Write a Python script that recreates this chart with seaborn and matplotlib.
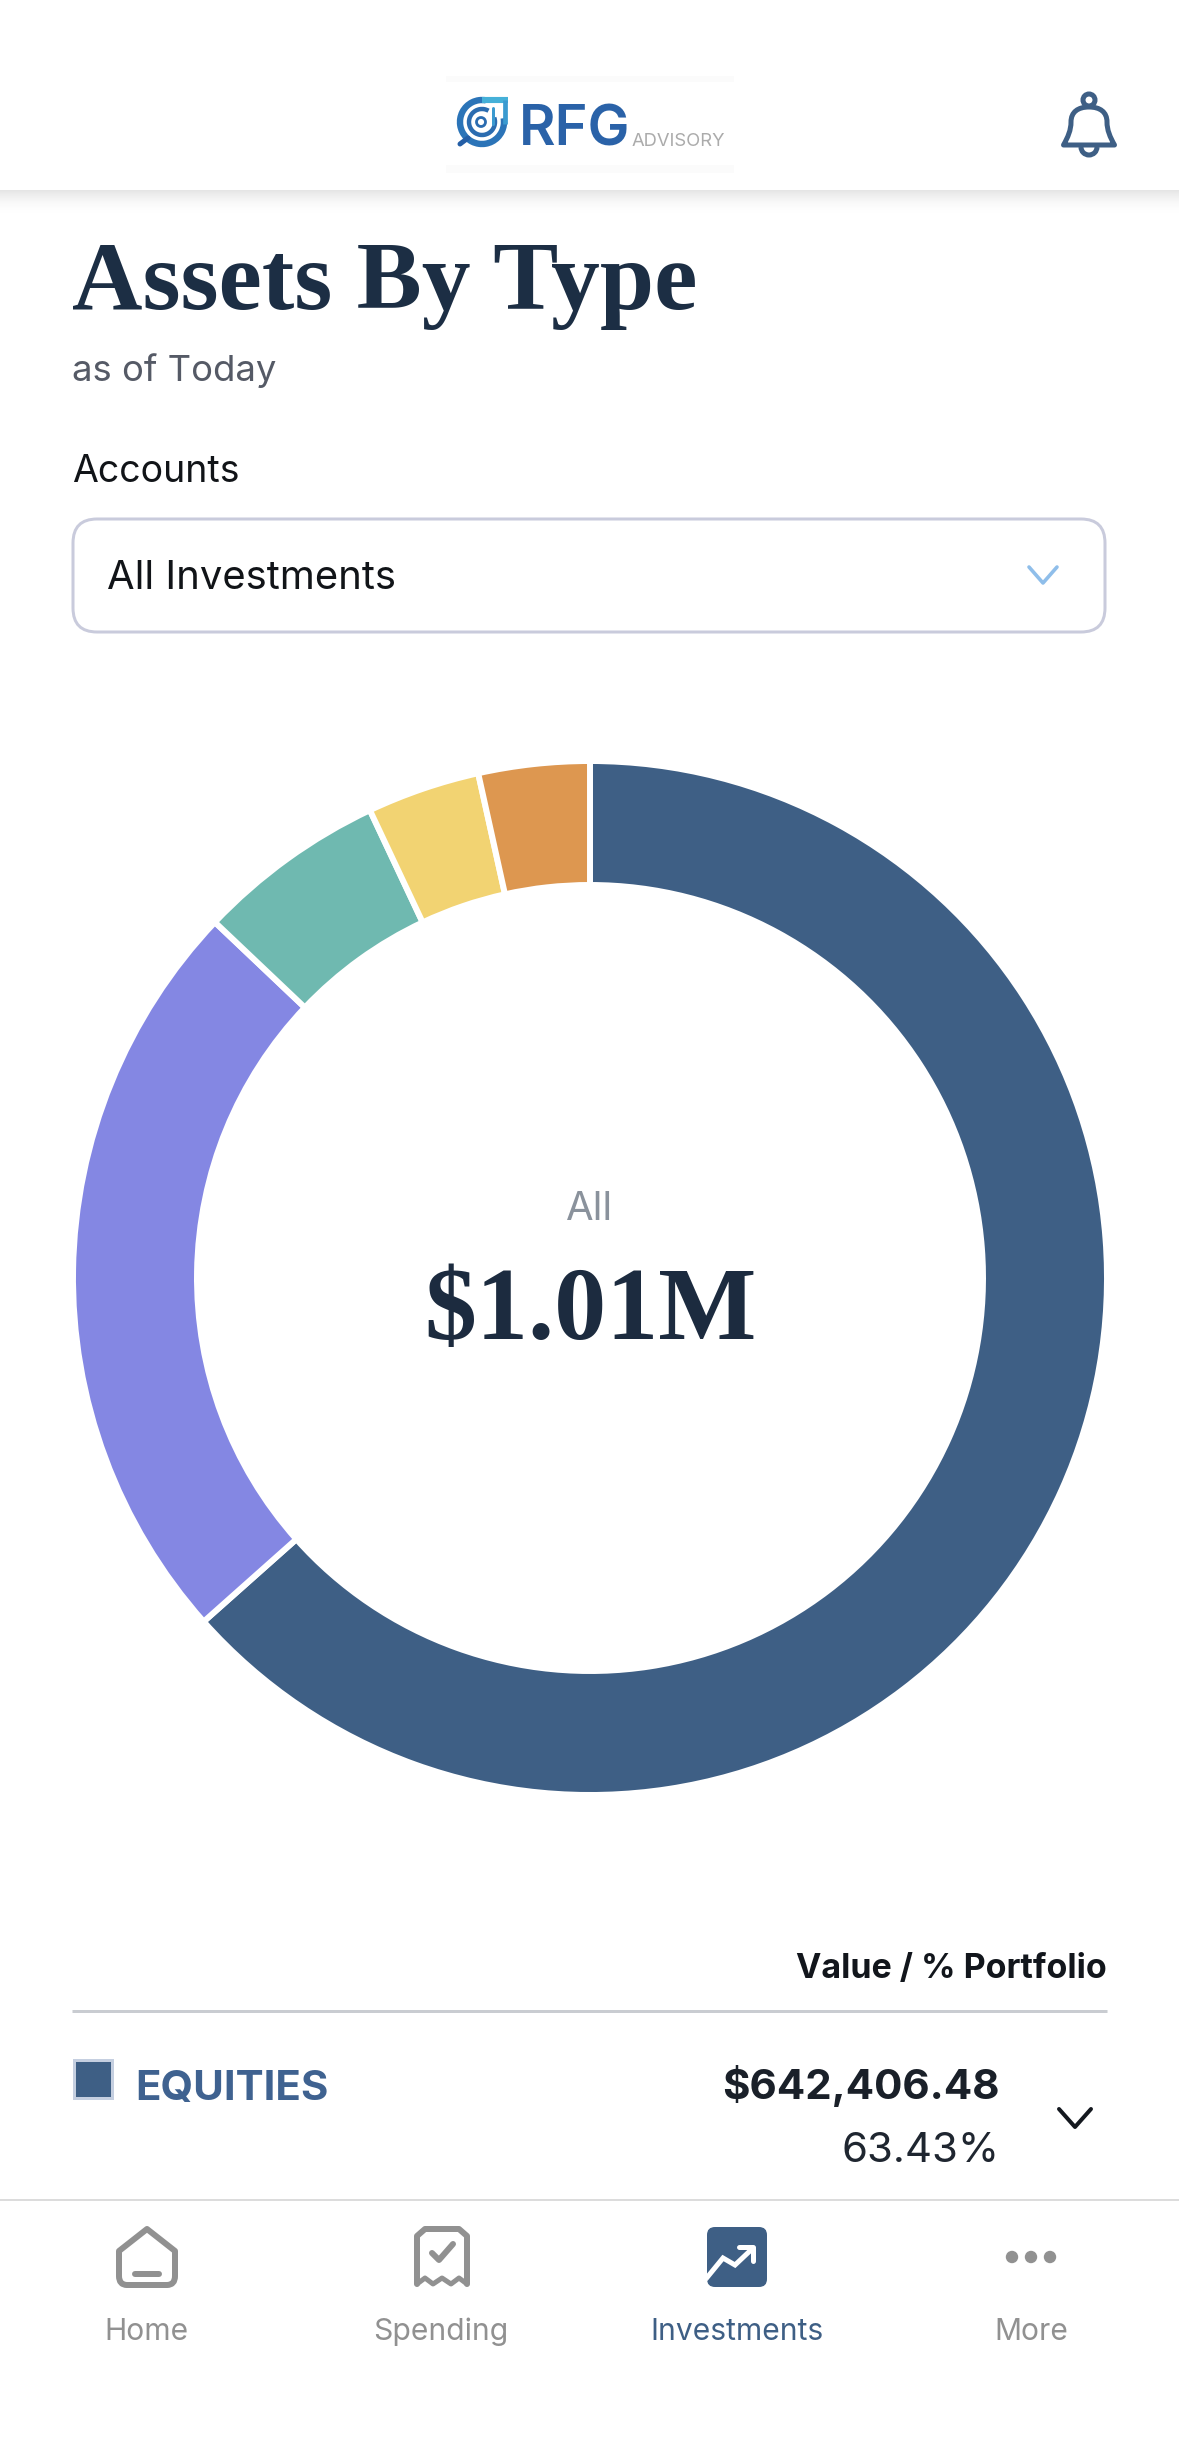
"""
plot.py
Assets By Type screen: donut of the portfolio split plus the app chrome around it.
"""
import matplotlib.pyplot as plt
import seaborn as sns
from matplotlib.patches import Circle, FancyBboxPatch, PathPatch, Rectangle, Arc
from matplotlib.path import Path

# Only EQUITIES is named on the visible part of the screen
segments = ["EQUITIES", "segment 2", "segment 3", "segment 4", "segment 5"]
shares = [63.43, 23.65, 5.92, 3.53, 3.47]
segment_colors = ["#3e5f85", "#8487e3", "#6fb9b0", "#f2d372", "#dd9750"]

page_title = "Assets By Type"
page_subtitle = "as of Today"
filter_label = "Accounts"
filter_value = "All Investments"
center_label = "All"
center_value = "$1.01M"
table_header = "Value / % Portfolio"
row_name = "EQUITIES"
row_value = "$642,406.48"
row_share = "63.43%"
nav_labels = ["Home", "Spending", "Investments", "More"]

W, H = 1179, 2437
NAVY = "#3e5f85"
GREY = "#919191"
INTER = ["Inter", "DejaVu Sans"]
SERIF = ["Liberation Serif", "DejaVu Serif"]

sns.set_theme(style="white")
plt.rcParams["font.family"] = INTER

fig = plt.figure(figsize=(W / 100, H / 100), dpi=100, facecolor="white")

# =============================================================
# Donut
# =============================================================
cx, cy = 590, 1278
outer, inner = 517, 393  # 3px of the white edge is eaten on each side
ax = fig.add_axes([(cx - 522) / W, (H - cy - 522) / H, 1044 / W, 1044 / H])
ax.pie(shares, colors=sns.color_palette(segment_colors), startangle=90,
       counterclock=False, radius=outer,
       wedgeprops=dict(width=outer - inner, edgecolor="white", linewidth=4.3))
ax.set_xlim(-522, 522)
ax.set_ylim(-522, 522)
ax.axis("off")

# =============================================================
# Screen chrome, drawn in pixel coordinates
# =============================================================
ui = fig.add_axes([0, 0, 1, 1])
ui.set_xlim(0, W)
ui.set_ylim(H, 0)
ui.axis("off")
ui.patch.set_alpha(0)


def txt(x, y, s, px, color, ha="left", weight="normal", family=INTER):
    ui.text(x, y, s, fontsize=px * 0.72, color=color, ha=ha, va="baseline",
            fontweight=weight, family=family)


def stroke(xs, ys, color, lw_px, **kw):
    ui.plot(xs, ys, color=color, lw=lw_px * 0.72, solid_capstyle="round",
            solid_joinstyle="round", **kw)


# header shadow
for i in range(26):
    shade = 0.10 * (1 - i / 26) ** 2
    ui.add_patch(Rectangle((0, 190 + i), W, 1, fc="black", ec="none", alpha=shade))

# logo
ui.add_patch(Rectangle((446, 76), 288, 6, fc="#fbfbfb", ec="none"))
ui.add_patch(Rectangle((446, 165), 288, 8, fc="#fbfbfb", ec="none"))
ui.add_patch(Arc((482, 122), 44, 44, theta1=-10, theta2=280, color="#2b74b8", lw=4.6))
ui.plot([482, 508], [100, 100], color="#45b0d8", lw=4.4, solid_capstyle="butt")
ui.plot([505, 505], [100, 124], color="#3a9ad0", lw=3.4, solid_capstyle="butt")
ui.add_patch(Arc((482, 122), 26, 26, theta1=-20, theta2=300, color="#2b6cb0", lw=3.2))
ui.add_patch(Circle((481, 122), 4.5, fc="none", ec="#2b6cb0", lw=2))
stroke([493, 493], [108, 124], "#3a9ad0", 3)
stroke([460, 468], [144, 138], "#245ea6", 5)
txt(519, 146, "RFG", 56, "#2a62a8", weight="semibold")
txt(632, 146, "ADVISORY", 18.4, "#ababab")

# bell
bell = Path([(1063.5, 145), (1068, 137), (1071, 130), (1071, 122),
             (1071, 112), (1078, 107), (1089, 107),
             (1100, 107), (1107, 112), (1107, 122),
             (1107, 130), (1110, 137), (1114.5, 145), (1063.5, 145)],
            [Path.MOVETO, Path.CURVE4, Path.CURVE4, Path.CURVE4,
             Path.CURVE4, Path.CURVE4, Path.CURVE4,
             Path.CURVE4, Path.CURVE4, Path.CURVE4,
             Path.CURVE4, Path.CURVE4, Path.CURVE4, Path.CLOSEPOLY])
ui.add_patch(PathPatch(bell, fc="none", ec=NAVY, lw=5 * 0.72, joinstyle="round"))
ui.add_patch(Circle((1089, 100), 6, fc="none", ec=NAVY, lw=5 * 0.72))
ui.add_patch(Arc((1089, 147), 16, 16, theta1=0, theta2=180, color=NAVY, lw=5 * 0.72))

# title block
txt(72, 309, page_title, 97.5, "#1c2e44", weight="bold", family=SERIF)
txt(72, 381, page_subtitle, 36.5, "#555a66")
txt(72, 482, filter_label, 37.5, "#111418")

# dropdown
ui.add_patch(FancyBboxPatch((73 + 24, 519 + 24), 1032 - 48, 113 - 48,
                            boxstyle="round,pad=24", fc="white", ec="#c9cbdc", lw=3 * 0.72))
txt(107, 589, filter_value, 40, "#111418")
stroke([1029, 1043, 1057], [567, 583, 567], "#8fbeea", 3.6)

# centre of the donut
txt(cx, 1220, center_label, 40, "#8a929c", ha="center")
txt(cx, 1339, center_value, 104, "#1c2b3f", ha="center", weight="bold", family=SERIF)

# table
txt(1107, 1978, table_header, 34, "#12161c", ha="right", weight="bold")
ui.plot([72, 1107], [2011, 2011], color="#c9ccd1", lw=3 * 0.72, solid_capstyle="butt")
ui.add_patch(Rectangle((74, 2060), 38, 38, fc=NAVY, ec="#c5cfe0", lw=3 * 0.72))
txt(135, 2100, row_name, 42, "#3f6290", weight="bold")
txt(1000, 2099, row_value, 42, "#1a2029", ha="right", weight="bold")
txt(1000, 2162, row_share, 42, "#1f2630", ha="right")
stroke([1059, 1075, 1091], [2109, 2127, 2109], "#14181f", 4)

# bottom nav
ui.add_patch(Rectangle((0, 2200), W, H - 2200, fc="white", ec="none"))
ui.plot([0, W], [2200, 2200], color="#dcdcdc", lw=2 * 0.72)

# home icon
home = Path([(147, 2229), (175, 2251), (175, 2276), (175, 2285), (167, 2285),
             (127, 2285), (119, 2285), (119, 2276), (119, 2251), (147, 2229)],
            [Path.MOVETO, Path.LINETO, Path.LINETO, Path.CURVE3, Path.CURVE3,
             Path.LINETO, Path.CURVE3, Path.CURVE3, Path.LINETO, Path.CLOSEPOLY])
ui.add_patch(PathPatch(home, fc="none", ec=GREY, lw=6 * 0.72, joinstyle="round"))
stroke([135, 159], [2274, 2274], GREY, 6)

# receipt icon
zig_x = [467, 459, 451, 442, 433, 425, 417]
zig_y = [2284, 2278, 2284, 2278, 2284, 2278, 2284]
stroke([417, 417, 425, 459, 467, 467], [2284, 2236, 2229, 2229, 2236, 2284], GREY, 6)
stroke(zig_x, zig_y, GREY, 5)
stroke([432, 439, 453], [2253, 2260, 2244], GREY, 6)

# investments icon
box = FancyBboxPatch((715, 2235), 44, 44, boxstyle="round,pad=8", fc=NAVY, ec="none")
ui.add_patch(box)
line, = ui.plot([705, 723, 735, 752], [2280, 2258, 2265, 2249], color="white",
                lw=5 * 0.72, solid_joinstyle="miter")
line.set_clip_path(box)
stroke([739, 753, 753], [2247, 2247, 2261], "white", 5)

# more icon
for x in (1012, 1031, 1050):
    ui.add_patch(Circle((x, 2257), 6.2, fc=GREY, ec="none"))

for x, label, color in zip((146, 441, 737, 1031), nav_labels, (GREY, GREY, NAVY, GREY)):
    txt(x, 2340, label, 30, color, ha="center")

fig.savefig("out.png", dpi=100)
plt.close(fig)
